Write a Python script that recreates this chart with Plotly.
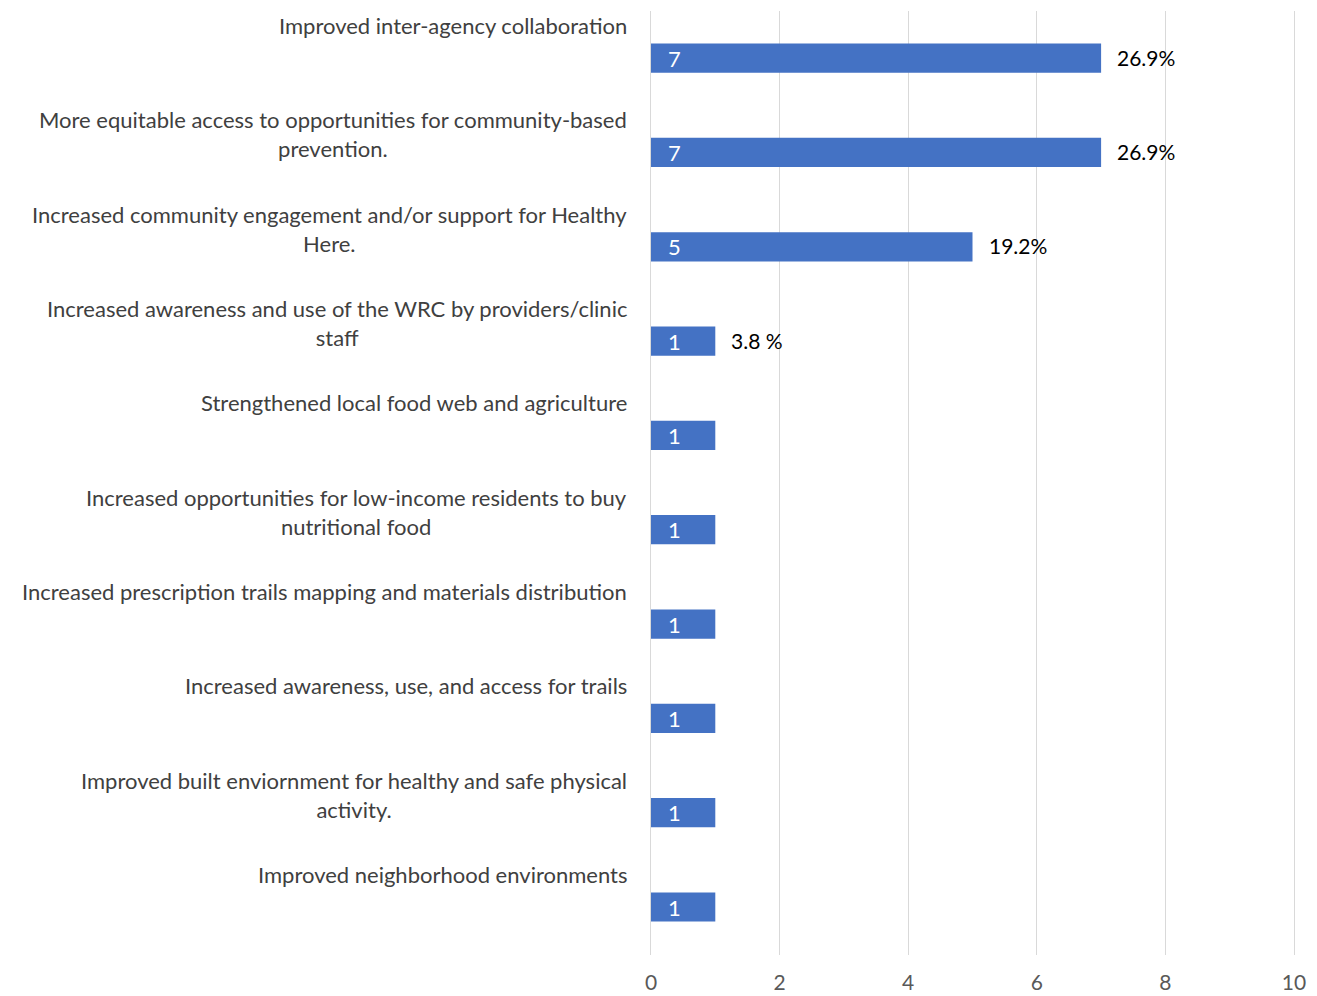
import plotly.graph_objects as go

categories = [
    "Improved inter-agency collaboration",
    "More equitable access to opportunities for community-based<br>prevention.",
    "Increased community engagement and/or support for Healthy<br>Here.",
    "Increased awareness and use of the WRC by providers/clinic<br>staff",
    "Strengthened local food web and agriculture",
    "Increased opportunities for low-income residents to buy<br>nutritional food",
    "Increased prescription trails mapping and materials distribution",
    "Increased awareness, use, and access for trails",
    "Improved built enviornment for healthy and safe physical<br>activity.",
    "Improved neighborhood environments",
]
counts = [7, 7, 5, 1, 1, 1, 1, 1, 1, 1]
percent_labels = ["26.9%", "26.9%", "19.2%", "3.8 %", "", "", "", "", "", ""]
x_ticks = [0, 2, 4, 6, 8, 10]

FONT = "Lato"
BAR_COLOR = "#4472C4"
GRID = "#D9D9D9"

fig = go.Figure(
    go.Bar(
        x=counts,
        y=categories,
        orientation="h",
        marker=dict(color=BAR_COLOR, line=dict(width=0)),
        width=0.31,
        hoverinfo="skip",
    )
)

annotations = []
for cat, n, pct in zip(categories, counts, percent_labels):
    # category text sits above its bar, right edge against the axis
    annotations.append(dict(
        x=0, xref="paper", y=cat, yref="y",
        text=cat, showarrow=False, align="center",
        xanchor="right", yanchor="top", xshift=-22, yshift=48,
        font=dict(family=FONT, size=22, color="#404040"),
    ))
    # count inside the bar base
    annotations.append(dict(
        x=0, xref="x", y=cat, yref="y",
        text=str(n), showarrow=False,
        xanchor="left", yanchor="middle", xshift=15, yshift=0,
        font=dict(family=FONT, size=22, color="white"),
    ))
    # share outside the bar end
    if pct:
        annotations.append(dict(
            x=n, xref="x", y=cat, yref="y",
            text=pct, showarrow=False,
            xanchor="left", yanchor="middle", xshift=14, yshift=1,
            font=dict(family=FONT, size=21, color="#000000"),
        ))

fig.update_layout(
    width=1317, height=996,
    margin=dict(l=651, r=23, t=11, b=41),
    plot_bgcolor="white", paper_bgcolor="white",
    showlegend=False,
    annotations=annotations,
    xaxis=dict(
        range=[0, 10], tickvals=x_ticks,
        showgrid=True, gridcolor=GRID, gridwidth=1,
        zeroline=False, showline=False, ticks="",
        tickfont=dict(family=FONT, size=21, color="#595959"),
        ticklabelstandoff=13, automargin=False,
    ),
    yaxis=dict(
        categoryorder="array", categoryarray=categories,
        autorange="reversed", showticklabels=False,
        showgrid=False, zeroline=False, ticks="",
        # vertical lines at x=0 and x=10 act as the outer gridlines
        showline=True, mirror=True, linecolor=GRID, linewidth=1,
        automargin=False,
    ),
)

fig.write_html("out.html")
